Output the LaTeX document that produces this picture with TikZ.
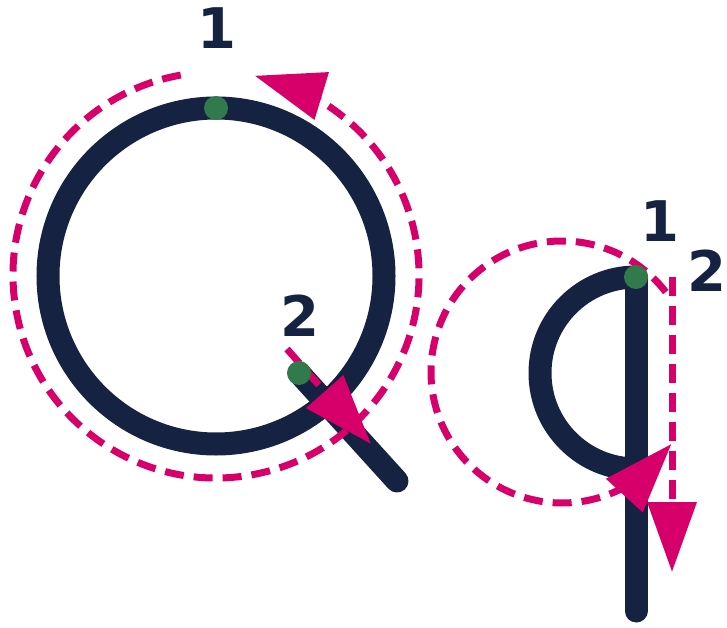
\documentclass[tikz,border=0pt]{standalone}
\usepackage{fontspec}
\setmainfont{DejaVu Sans}
\usetikzlibrary{arrows.meta,bending,calc}
\definecolor{navy}{HTML}{152242}
\definecolor{mag}{HTML}{D7006B}
\definecolor{dotgreen}{HTML}{317A4B}
\tikzset{
  stroke/.style={draw=navy,line width=23pt},
  pinkdash/.style={draw=mag,line width=7pt,dash pattern=on 19pt off 10pt},
  bigtip/.style={-{Triangle[length=70pt,width=48pt,flex=0.6]}},
  gdot/.style={circle,fill=dotgreen,inner sep=0pt,minimum size=24pt},
  lbl/.style={font=\fontsize{56}{60}\selectfont\bfseries,text=navy,inner sep=0pt}
}
\begin{document}
\begin{tikzpicture}[x=1pt,y=1pt]
\useasboundingbox (0,0) rectangle (727,-628);
% Q
\coordinate (qc) at (216,-276);
\coordinate (qs) at (299,-373);
\coordinate (qe) at (397,-481);
\draw[stroke] (qc) circle[radius=168pt];
\draw[stroke,line cap=round] (qs) -- (qe);
% q
\coordinate (rc) at (636,-373);
\coordinate (rtop) at (636,-277);
\coordinate (rbot) at (636,-611);
\draw[stroke] ($(rc)+(90:96pt)$) arc[start angle=90,end angle=270,radius=96pt];
\draw[stroke,line cap=round] (rtop) -- (rbot);
% pink paths
\coordinate (pc) at (216,-275);
\draw[pinkdash,bigtip] ($(pc)+(100:203pt)$) arc[start angle=100,end angle=439,radius=203pt];
\coordinate (ts) at (287,-349);
\coordinate (te) at (371,-444);
\draw[pinkdash,bigtip] (ts) -- (te);
\coordinate (pc2) at (562,-372);
\draw[pinkdash,bigtip] ($(pc2)+(37.6:131pt)$) arc[start angle=37.6,end angle=326.7,radius=131pt];
\coordinate (vs) at (672,-277);
\coordinate (ve) at (672,-572);
\draw[pinkdash,bigtip] (vs) -- (ve);
% dots
\node[gdot] (d1) at (216,-108) {};
\node[gdot] (d2) at (qs) {};
\node[gdot] (d3) at (rtop) {};
% labels
\node[lbl] (l1) at (217,-28) {1};
\node[lbl] (l2) at (300,-316) {2};
\node[lbl] (l3) at (660,-221) {1};
\node[lbl] (l4) at (707,-271) {2};
\end{tikzpicture}
\end{document}
